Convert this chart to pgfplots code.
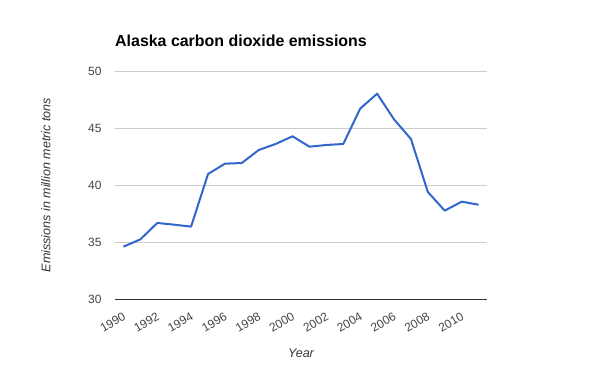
\documentclass[border=0pt]{standalone}
\usepackage{fontspec}
\setmainfont{Liberation Sans}
\usepackage{pgfplots}
\pgfplotsset{compat=1.18}
\definecolor{gline}{HTML}{3366CC}
\definecolor{tickgray}{HTML}{444444}
\definecolor{gridgray}{HTML}{CCCCCC}
\definecolor{axisdark}{HTML}{333333}
\pgfplotstableread{
year value
1990 34.59
1991 35.23
1992 36.67
1993 36.52
1994 36.35
1995 40.96
1996 41.87
1997 41.93
1998 43.07
1999 43.60
2000 44.27
2001 43.36
2002 43.51
2003 43.60
2004 46.70
2005 48.01
2006 45.76
2007 44.04
2008 39.39
2009 37.75
2010 38.54
2011 38.27
}\datatable
\begin{document}
\begin{tikzpicture}[x=1bp,y=1bp]
\path[use as bounding box] (0,0) rectangle (600,371);
\begin{axis}[
  at={(115bp,72bp)}, anchor=south west,
  scale only axis, width=372bp, height=228bp,
  xmin=1989.5, xmax=2011.5, ymin=30, ymax=50,
  axis lines*=left,
  y axis line style={draw=none},
  x axis line style={draw=axisdark, line width=1bp},
  ytick={30,35,40,45,50},
  xtick={1990,1992,...,2010},
  major tick length=0pt,
  ymajorgrids,
  grid style={draw=gridgray, line width=0.9bp},
  /pgf/number format/assume math mode=true,
  /pgf/number format/1000 sep={},
  yticklabel style={font=\fontsize{12}{14}\selectfont, color=tickgray, xshift=-10bp},
  xticklabel style={font=\fontsize{12}{14}\selectfont, color=tickgray, rotate=30, anchor=north east, yshift=-7bp, xshift=-4bp},
  xlabel={Year},
  xlabel style={font=\fontsize{12.6}{15}\selectfont\itshape, color=axisdark, at={(axis description cs:0.5,0)}, anchor=base, yshift=-58bp},
  ylabel={Emissions in million metric tons},
  ylabel style={font=\fontsize{12.6}{15}\selectfont\itshape, color=axisdark, at={(axis description cs:0,0.5)}, anchor=center, yshift=69bp},
  title={Alaska carbon dioxide emissions},
  title style={font=\fontsize{16}{19}\selectfont\bfseries, at={(axis description cs:0,1)}, anchor=base west, yshift=19bp, inner sep=0pt},
  clip=false,
]
\addplot[gline, line width=2bp, line join=round] table[x=year, y=value] {\datatable};
\end{axis}
\end{tikzpicture}
\end{document}
